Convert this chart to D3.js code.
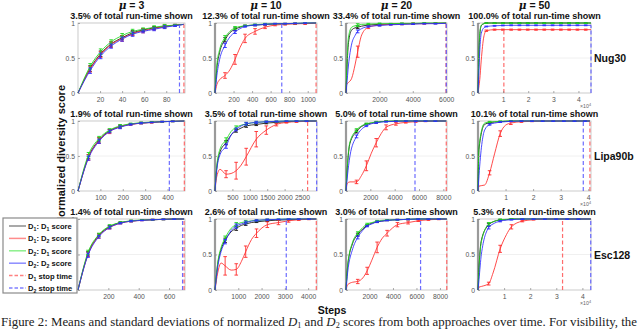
<!DOCTYPE html>
<html>
<head>
<meta charset="utf-8">
<script src="https://cdn.jsdelivr.net/npm/d3@7"></script>
<style>
body { margin: 0; background: #fff; }
</style>
</head>
<body>
<svg id="fig" width="640" height="329" font-family="Liberation Sans, Arial, sans-serif"></svg>
<script>
// ---- data ----
const mus = [3, 10, 20, 50];
const instances = ["Nug30", "Lipa90b", "Esc128"];
const shownPct = [["3.5%", "12.3%", "33.4%", "100.0%"],
                  ["1.9%", "3.5%", "5.0%", "10.1%"],
                  ["1.4%", "2.6%", "3.0%", "5.3%"]];
const xMax = [[97, 1100, 6050, 45000], [478, 2930, 8300, 41000], [705, 4380, 8600, 43300]];
const xTicks = [
  [[20, 40, 60, 80], [200, 400, 600, 800, 1000], [2000, 4000, 6000], [10000, 20000, 30000, 40000]],
  [[100, 200, 300, 400], [500, 1000, 1500, 2000, 2500], [2000, 4000, 6000, 8000], [10000, 20000, 30000, 40000]],
  [[200, 400, 600], [1000, 2000, 3000, 4000], [2000, 4000, 6000, 8000], [10000, 20000, 30000, 40000]]
];
const stopD1 = [[96, 1090, 5990, 10300], [475, 2660, 8240, 40600], [699, 4350, 8580, 32400]];
const stopD2 = [[92, 720, 6010, 45000], [408, 2920, 5670, 38200], [689, 3060, 6350, 43200]];

// Nug30
const nugSteps = [
  [0, 11, 20.5, 30, 40, 49.5, 59, 69, 78.5, 88, 96],
  [0, 20, 50, 108, 160, 216, 270, 324, 432, 540, 648, 756, 864, 972, 1090],
  [0, 40, 150, 340, 540, 700, 940, 1340, 2010, 2680, 3350, 4020, 4690, 5360, 6000],
  [0, 300, 700, 1300, 2300, 3300, 6600, 9900, 13200, 16500, 19800, 23100, 26400, 29700, 33000, 36300, 39600, 42900, 45000]
];
const nugBlack = [
  [0, 0.35, 0.56, 0.70, 0.79, 0.86, 0.90, 0.93, 0.95, 0.97, 0.98],
  [0, 0.35, 0.58, 0.76, 0.86, 0.91, 0.94, 0.96, 0.97, 0.98, 0.985, 0.99, 0.99, 0.995, 1],
  [0, 0.25, 0.72, 0.9, 0.93, 0.94, 0.955, 0.97, 0.98, 0.985, 0.99, 0.99, 0.995, 0.995, 1],
  [0, 0.45, 0.82, 0.96, 0.99, 1, 1, 1, 1, 1, 1, 1, 1, 1, 1, 1, 1, 1, 1]
];
const nugRed = [
  [0, 0.34, 0.55, 0.69, 0.78, 0.85, 0.89, 0.92, 0.95, 0.97, 0.98],
  [0, 0.12, 0.19, 0.25, 0.33, 0.48, 0.65, 0.78, 0.88, 0.94, 0.97, 0.98, 0.99, 0.99, 1],
  [0, 0.12, 0.15, 0.21, 0.4, 0.59, 0.83, 0.94, 0.97, 0.98, 0.985, 0.99, 0.99, 0.995, 0.995],
  [0, 0.08, 0.19, 0.47, 0.8, 0.89, 0.905, 0.905, 0.905, 0.905, 0.905, 0.905, 0.905, 0.905, 0.905, 0.905, 0.905, 0.905, 0.905]
];
const nugGreen = [
  [0, 0.38, 0.59, 0.73, 0.82, 0.88, 0.91, 0.94, 0.96, 0.97, 0.98],
  [0, 0.4, 0.62, 0.79, 0.88, 0.93, 0.95, 0.96, 0.975, 0.985, 0.99, 0.99, 0.995, 1, 1],
  [0, 0.3, 0.8, 0.94, 0.96, 0.97, 0.98, 0.985, 0.99, 0.99, 0.995, 0.995, 1, 1, 1],
  [0, 0.5, 0.85, 0.97, 0.99, 1, 1, 1, 1, 1, 1, 1, 1, 1, 1, 1, 1, 1, 1]
];
const nugBlue = [
  [0, 0.32, 0.53, 0.67, 0.77, 0.84, 0.88, 0.91, 0.94, 0.96, 0.98],
  [0, 0.25, 0.48, 0.68, 0.8, 0.87, 0.92, 0.95, 0.97, 0.98, 0.99, 0.99, 0.995, 1, 1],
  [0, 0.1, 0.4, 0.7, 0.82, 0.88, 0.92, 0.95, 0.965, 0.975, 0.98, 0.985, 0.99, 0.99, 0.995],
  [0, 0.25, 0.6, 0.85, 0.93, 0.95, 0.96, 0.965, 0.967, 0.967, 0.967, 0.967, 0.967, 0.967, 0.967, 0.967, 0.967, 0.967, 0.967]
];
const nugSdRed = [
  [null, 0.04, 0.04, 0.04, 0.04, 0.03, 0.03, 0.02, 0.02, 0.01, null],
  [null, null, null, 0.04, null, 0.07, null, 0.06, 0.04, 0.02, 0.01, 0.01, 0.01, 0.01, null],
  [null, null, null, null, null, 0.08, null, 0.02, 0.01, 0.01, 0.01, 0.01, 0.005, 0.005, null],
  [null, null, null, null, null, 0.01, 0.008, 0.008, 0.008, 0.008, 0.008, 0.008, 0.008, 0.008, 0.008, 0.008, 0.008, 0.008, null]
];
const nugSdOther = [
  [null, 0.04, 0.04, 0.03, 0.03, 0.03, 0.02, 0.02, 0.02, 0.01, null],
  [null, null, null, 0.03, null, 0.02, null, 0.01, 0.01, 0.01, 0.005, 0.005, 0.005, 0.005, null],
  [null, null, null, null, null, 0.02, null, 0.01, 0.01, 0.005, 0.005, 0.005, 0.005, 0.005, null],
  [null, null, null, null, null, 0.006, 0.006, 0.006, 0.006, 0.006, 0.006, 0.006, 0.006, 0.006, 0.006, 0.006, 0.006, 0.006, null]
];

// Lipa90b
const lipaSteps = [
  [0, 47, 94, 141, 188, 235, 282, 329, 376, 423, 475],
  [0, 40, 145, 318, 462, 607, 751, 896, 1185, 1474, 1763, 2052, 2341, 2630, 2920],
  [0, 108, 324, 864, 1269, 1674, 2079, 2484, 2889, 3294, 4104, 4914, 5724, 6534, 7344, 8240],
  [0, 360, 2400, 4210, 6000, 8060, 10000, 11910, 15760, 19610, 23460, 27310, 31160, 35010, 38860, 40600]
];
const lipaBlack = [
  [0, 0.49, 0.73, 0.86, 0.92, 0.955, 0.97, 0.98, 0.99, 0.995, 1],
  [0, 0.28, 0.56, 0.69, 0.8, 0.86, 0.9, 0.93, 0.95, 0.97, 0.98, 0.99, 0.995, 1, 1],
  [0, 0.33, 0.68, 0.85, 0.92, 0.955, 0.97, 0.98, 0.99, 0.995, 1, 1, 1, 1, 1, 1],
  [0, 0.6, 0.95, 0.975, 0.985, 0.99, 0.995, 1, 1, 1, 1, 1, 1, 1, 1, 1]
];
const lipaRed = [
  [0, 0.48, 0.72, 0.85, 0.92, 0.95, 0.97, 0.98, 0.99, 0.995, 1],
  [0, 0.18, 0.31, 0.24, 0.25, 0.29, 0.37, 0.49, 0.74, 0.87, 0.95, 0.98, 0.99, 0.995, 1],
  [0, 0.11, 0.13, 0.13, 0.22, 0.36, 0.54, 0.69, 0.82, 0.91, 0.96, 0.98, 0.99, 0.995, 1, 1],
  [0, 0.07, 0.085, 0.26, 0.53, 0.82, 0.94, 0.97, 0.99, 0.995, 1, 1, 1, 1, 1, 1]
];
const lipaGreen = [
  [0, 0.52, 0.75, 0.87, 0.93, 0.96, 0.975, 0.985, 0.99, 0.995, 1],
  [0, 0.3, 0.6, 0.73, 0.85, 0.91, 0.94, 0.96, 0.98, 0.99, 0.995, 1, 1, 1, 1],
  [0, 0.35, 0.7, 0.87, 0.93, 0.96, 0.975, 0.985, 0.99, 0.995, 1, 1, 1, 1, 1, 1],
  [0, 0.63, 0.97, 0.985, 0.99, 0.995, 1, 1, 1, 1, 1, 1, 1, 1, 1, 1]
];
const lipaBlue = [
  [0, 0.47, 0.71, 0.85, 0.91, 0.95, 0.97, 0.98, 0.99, 0.995, 1],
  [0, 0.25, 0.52, 0.64, 0.8, 0.88, 0.93, 0.96, 0.98, 0.99, 0.995, 1, 1, 1, 1],
  [0, 0.2, 0.5, 0.78, 0.88, 0.93, 0.96, 0.975, 0.985, 0.99, 0.995, 1, 1, 1, 1, 1],
  [0, 0.22, 0.87, 0.95, 0.97, 0.985, 0.99, 0.995, 1, 1, 1, 1, 1, 1, 1, 1]
];
const lipaSdRed = [
  [null, 0.04, 0.04, 0.03, 0.02, 0.01, 0.01, 0.01, 0.005, 0.005, null],
  [null, null, null, 0.05, null, 0.12, null, 0.12, 0.11, 0.06, 0.02, 0.01, 0.01, 0.005, null],
  [null, null, null, 0.025, null, 0.07, null, 0.06, null, 0.035, 0.02, 0.01, 0.01, 0.005, 0.005, null],
  [null, null, null, 0.03, null, 0.04, null, 0.02, 0.01, 0.005, 0.005, 0.005, 0.005, 0.005, 0.005, null]
];
const lipaSdOther = [
  [null, 0.03, 0.03, 0.02, 0.02, 0.01, 0.01, 0.005, 0.005, 0.005, null],
  [null, null, null, 0.03, null, 0.02, null, 0.02, 0.015, 0.01, 0.01, 0.005, 0.005, 0.005, null],
  [null, null, null, 0.02, null, 0.01, null, 0.01, null, 0.005, 0.005, 0.005, 0.005, 0.005, 0.005, null],
  [null, null, null, 0.01, null, 0.005, null, 0.005, 0.005, 0.005, 0.005, 0.005, 0.005, 0.005, 0.005, null]
];

// Esc128
const escSteps = [
  [0, 66, 137, 208, 279, 350, 421, 492, 563, 634, 699],
  [0, 116, 261, 435, 696, 913, 1131, 1319, 1566, 1783, 2247, 2726, 3161, 3596, 4031, 4350],
  [0, 143, 572, 1000, 1430, 1800, 2200, 2650, 3050, 3500, 4380, 5290, 6150, 7020, 7900, 8580],
  [0, 385, 1282, 4100, 5770, 8500, 10900, 12800, 17000, 21300, 25600, 29900, 34200, 38500, 43200]
];
const escBlack = [
  [0, 0.51, 0.77, 0.89, 0.95, 0.97, 0.985, 0.99, 0.995, 1, 1],
  [0, 0.36, 0.57, 0.7, 0.82, 0.87, 0.91, 0.93, 0.95, 0.96, 0.975, 0.985, 0.99, 0.995, 1, 1],
  [0, 0.34, 0.66, 0.78, 0.86, 0.91, 0.94, 0.96, 0.97, 0.98, 0.99, 0.995, 1, 1, 1, 1],
  [0, 0.32, 0.7, 0.92, 0.96, 0.985, 0.99, 1, 1, 1, 1, 1, 1, 1, 1]
];
const escRed = [
  [0, 0.5, 0.76, 0.88, 0.94, 0.97, 0.98, 0.99, 0.995, 1, 1],
  [0, 0.24, 0.38, 0.34, 0.28, 0.29, 0.40, 0.54, 0.71, 0.80, 0.92, 0.95, 0.975, 0.99, 0.995, 1],
  [0, 0.075, 0.11, 0.12, 0.17, 0.27, 0.42, 0.6, 0.72, 0.8, 0.92, 0.95, 0.975, 0.99, 0.995, 1],
  [0, 0.04, 0.05, 0.09, 0.24, 0.58, 0.78, 0.89, 0.97, 0.99, 1, 1, 1, 1, 1]
];
const escGreen = [
  [0, 0.53, 0.78, 0.9, 0.95, 0.975, 0.985, 0.99, 0.995, 1, 1],
  [0, 0.38, 0.6, 0.73, 0.87, 0.92, 0.95, 0.96, 0.975, 0.98, 0.99, 0.995, 1, 1, 1, 1],
  [0, 0.35, 0.68, 0.8, 0.88, 0.93, 0.95, 0.97, 0.98, 0.985, 0.99, 0.995, 1, 1, 1, 1],
  [0, 0.3, 0.68, 0.93, 0.96, 0.99, 0.995, 1, 1, 1, 1, 1, 1, 1, 1]
];
const escBlue = [
  [0, 0.49, 0.75, 0.88, 0.94, 0.97, 0.98, 0.99, 0.995, 1, 1],
  [0, 0.32, 0.54, 0.68, 0.84, 0.9, 0.93, 0.95, 0.97, 0.98, 0.99, 0.995, 1, 1, 1, 1],
  [0, 0.25, 0.58, 0.74, 0.84, 0.9, 0.93, 0.96, 0.97, 0.98, 0.99, 0.995, 1, 1, 1, 1],
  [0, 0.15, 0.5, 0.88, 0.93, 0.97, 0.985, 0.99, 1, 1, 1, 1, 1, 1, 1]
];
const escSdRed = [
  [null, 0.03, 0.03, 0.02, 0.01, 0.01, 0.005, 0.005, 0.005, 0.005, null],
  [null, null, null, 0.13, null, 0.08, null, 0.08, null, 0.06, 0.04, 0.03, 0.02, 0.01, 0.005, null],
  [null, null, null, 0.03, null, 0.05, null, 0.075, null, 0.04, 0.03, 0.02, 0.01, 0.01, 0.005, null],
  [null, null, null, 0.02, null, 0.05, null, 0.03, 0.01, 0.005, 0.005, 0.005, 0.005, 0.005, null]
];
const escSdOther = [
  [null, 0.03, 0.02, 0.02, 0.01, 0.01, 0.005, 0.005, 0.005, 0.005, null],
  [null, null, null, 0.03, null, 0.03, null, 0.02, null, 0.01, 0.01, 0.005, 0.005, 0.005, 0.005, null],
  [null, null, null, 0.02, null, 0.01, null, 0.01, null, 0.005, 0.005, 0.005, 0.005, 0.005, 0.005, null],
  [null, null, null, 0.02, null, 0.01, null, 0.005, 0.005, 0.005, 0.005, 0.005, 0.005, 0.005, null]
];

const legendLabels = [["D", "1", ": D", "1", " score"], ["D", "1", ": D", "2", " score"],
                      ["D", "2", ": D", "1", " score"], ["D", "2", ": D", "2", " score"],
                      ["D", "1", " stop time"], ["D", "2", " stop time"]];

// ---- layout ----
const colX = [[78, 185], [215, 317], [346, 447], [478, 591]];
const rowY = [[23, 93], [121, 191], [219, 290]];
const col = { black: "#111", red: "#ff2b2b", green: "#1ed81e", blue: "#2b2bff" };

const rows = [
  { steps: nugSteps, black: nugBlack, red: nugRed, green: nugGreen, blue: nugBlue, sdRed: nugSdRed, sdOther: nugSdOther },
  { steps: lipaSteps, black: lipaBlack, red: lipaRed, green: lipaGreen, blue: lipaBlue, sdRed: lipaSdRed, sdOther: lipaSdOther },
  { steps: escSteps, black: escBlack, red: escRed, green: escGreen, blue: escBlue, sdRed: escSdRed, sdOther: escSdOther }
];

const svg = d3.select("#fig");
svg.append("rect").attr("width", 640).attr("height", 329).attr("fill", "#fff");

function valueAt(steps, vals, s) {
  for (let i = 1; i < steps.length; i++) {
    if (s <= steps[i]) {
      const t = (s - steps[i - 1]) / (steps[i] - steps[i - 1]);
      return vals[i - 1] + t * (vals[i] - vals[i - 1]);
    }
  }
  return vals[vals.length - 1];
}

rows.forEach((rd, r) => {
  for (let c = 0; c < 4; c++) {
    const x = d3.scaleLinear().domain([0, xMax[r][c]]).range(colX[c]);
    const y = d3.scaleLinear().domain([0, 1]).range([rowY[r][1], rowY[r][0]]);
    const g = svg.append("g");
    const steps = rd.steps[c];

    // grid at 0.5 and box
    g.append("line")
      .attr("x1", colX[c][0]).attr("x2", colX[c][1])
      .attr("y1", y(0.5)).attr("y2", y(0.5))
      .attr("stroke", "#ececec").attr("stroke-width", 0.8);
    g.append("rect")
      .attr("x", colX[c][0]).attr("y", rowY[r][0])
      .attr("width", colX[c][1] - colX[c][0]).attr("height", rowY[r][1] - rowY[r][0])
      .attr("fill", "none").attr("stroke", "#bdbdbd").attr("stroke-width", 0.8);
    if (c > 0) {
      g.append("line")
        .attr("x1", x(0)).attr("x2", x(0)).attr("y1", y(0)).attr("y2", y(1))
        .attr("stroke", "#9a9a9a").attr("stroke-width", 2.2);
    }

    const line = d3.line()
      .x(d => x(d[0])).y(d => y(d[1]))
      .curve(d3.curveMonotoneX);

    ["black", "red", "green", "blue"].forEach(k => {
      const vals = rd[k][c];
      const sd = k === "red" ? rd.sdRed[c] : rd.sdOther[c];
      g.append("path")
        .datum(steps.map((s, i) => [s, vals[i]]))
        .attr("d", line)
        .attr("fill", "none")
        .attr("stroke", col[k])
        .attr("stroke-width", 1)
        .attr("stroke-opacity", 0.85);
      const bars = steps.map((s, i) => ({ s: s, v: vals[i], e: sd[i] })).filter(d => d.e != null);
      const eb = g.append("g").attr("stroke", col[k]).attr("stroke-width", 0.9);
      eb.selectAll("line.v").data(bars).enter().append("line")
        .attr("x1", d => x(d.s)).attr("x2", d => x(d.s))
        .attr("y1", d => y(d.v - d.e)).attr("y2", d => y(Math.min(1, d.v + d.e)));
      eb.selectAll("line.t").data(bars).enter().append("line")
        .attr("x1", d => x(d.s) - 1.8).attr("x2", d => x(d.s) + 1.8)
        .attr("y1", d => y(Math.min(1, d.v + d.e))).attr("y2", d => y(Math.min(1, d.v + d.e)));
      eb.selectAll("line.b").data(bars).enter().append("line")
        .attr("x1", d => x(d.s) - 1.8).attr("x2", d => x(d.s) + 1.8)
        .attr("y1", d => y(d.v - d.e)).attr("y2", d => y(d.v - d.e));
    });

    // stop time lines
    [[stopD1[r][c], rd.red[c], "#ff5c5c"], [stopD2[r][c], rd.blue[c], "#5c5cff"]].forEach(([s, vals, colr]) => {
      g.append("line")
        .attr("x1", x(s)).attr("x2", x(s))
        .attr("y1", y(0)).attr("y2", y(valueAt(steps, vals, s)))
        .attr("stroke", colr).attr("stroke-width", 1.2)
        .attr("stroke-dasharray", "4,2.5").attr("stroke-opacity", 0.9);
    });

    // axes
    const xAxis = d3.axisBottom(x).tickValues(xTicks[r][c]).tickSize(-2).tickSizeOuter(0).tickPadding(4)
      .tickFormat(c === 3 ? (d => d / 10000) : d3.format("d"));
    const yAxis = d3.axisLeft(y).tickValues([0, 0.5, 1]).tickSize(-2).tickSizeOuter(0).tickPadding(3)
      .tickFormat(d => d === 0.5 ? "0.5" : d);
    [g.append("g").attr("transform", `translate(0,${y(0)})`).call(xAxis),
     g.append("g").attr("transform", `translate(${x(0)},0)`).call(yAxis)].forEach(a => {
      a.attr("font-family", null).attr("font-size", null);
      a.select(".domain").remove();
      a.selectAll(".tick line").attr("stroke", "#888").attr("stroke-width", 0.7);
      a.selectAll(".tick text").attr("fill", "#555").attr("font-size", 6.8);
    });

    if (c === 3) {
      const ex = g.append("text").attr("x", 591).attr("y", rowY[r][1] + 15)
        .attr("text-anchor", "end").attr("font-size", 5.2).attr("fill", "#666").text("×10");
      ex.append("tspan").attr("dy", -2.3).attr("font-size", 3.8).text("4");
    }

    // panel subtitle
    g.append("text")
      .attr("x", (colX[c][0] + colX[c][1]) / 2).attr("y", rowY[r][0] - 4.3)
      .attr("text-anchor", "middle").attr("font-size", 9).attr("font-weight", "bold")
      .attr("fill", "#111")
      .text(`${shownPct[r][c]} of total run-time shown`);
  }

  // instance label on the right
  svg.append("text")
    .attr("x", 594).attr("y", (rowY[r][0] + rowY[r][1]) / 2 + 4)
    .attr("font-size", 10.5).attr("font-weight", "bold").attr("fill", "#111")
    .text(instances[r]);
});

// mu titles
mus.forEach((m, c) => {
  const t = svg.append("text")
    .attr("x", (colX[c][0] + colX[c][1]) / 2).attr("y", 8.5)
    .attr("text-anchor", "middle").attr("font-size", 10.5).attr("font-weight", "bold").attr("fill", "#111");
  t.append("tspan").attr("font-style", "italic").attr("font-family", "DejaVu Serif, serif").text("μ");
  t.append("tspan").text(` = ${m}`);
});

// y label
svg.append("text")
  .attr("transform", "translate(65,155) rotate(-90)")
  .attr("text-anchor", "middle").attr("font-size", 11).attr("font-weight", "bold").attr("fill", "#111")
  .text("Normalized diversity score");

// x label
svg.append("text")
  .attr("x", 332).attr("y", 314)
  .attr("text-anchor", "middle").attr("font-size", 10.5).attr("font-weight", "bold").attr("fill", "#111")
  .text("Steps");

// legend
const lg = svg.append("g");
lg.append("rect").attr("x", 3).attr("y", 218).attr("width", 74).attr("height", 75)
  .attr("fill", "#fff").attr("stroke", "#8a8a8a").attr("stroke-width", 1.2);
const legendColors = ["#8c8c8c", "#ff8c8c", "#8cf08c", "#8c8cff", "#ff8080", "#8080ff"];
legendLabels.forEach((parts, i) => {
  const yy = 226 + i * 12.4;
  lg.append("line").attr("x1", 9).attr("x2", 26).attr("y1", yy).attr("y2", yy)
    .attr("stroke", legendColors[i]).attr("stroke-width", 1.5)
    .attr("stroke-dasharray", i >= 4 ? "3.5,2" : null);
  const t = lg.append("text").attr("x", 28).attr("y", yy + 3)
    .attr("font-size", 7.6).attr("font-weight", "bold").attr("fill", "#111");
  parts.forEach((p, j) => {
    const sub = (j === 1 || j === 3);
    t.append("tspan").attr("font-size", sub ? 5.2 : 7.6)
      .attr("dy", sub ? 2 : (j > 0 ? -2 : 0)).text(p);
  });
});

// caption
const cap = svg.append("text").attr("x", 1).attr("y", 326)
  .attr("font-family", "Liberation Serif, Times New Roman, serif").attr("font-size", 12.5).attr("fill", "#222")
  .attr("textLength", 636).attr("lengthAdjust", "spacingAndGlyphs");
cap.append("tspan").text("Figure 2: Means and standard deviations of normalized ");
cap.append("tspan").attr("font-style", "italic").text("D");
cap.append("tspan").attr("font-size", 8).attr("dy", 2).text("1");
cap.append("tspan").attr("dy", -2).text(" and ");
cap.append("tspan").attr("font-style", "italic").text("D");
cap.append("tspan").attr("font-size", 8).attr("dy", 2).text("2");
cap.append("tspan").attr("dy", -2).text(" scores from both approaches over time. For visibility, the");
</script>
</body>
</html>
